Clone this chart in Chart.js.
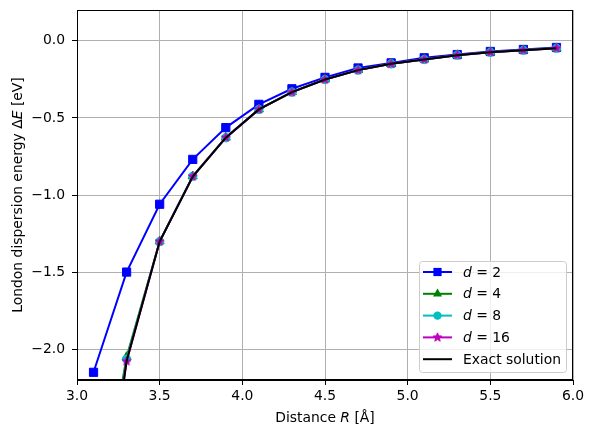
<!DOCTYPE html>
<html>
<head>
<meta charset="utf-8">
<script src="https://cdn.jsdelivr.net/npm/chart.js@4"></script>
<style>
    html, body { margin: 0; padding: 0; background: #fff; }
    canvas { display: block; }
</style>
</head>
<body>
<canvas id="chart" width="593" height="437"></canvas>
<script>
// Distances R in Angstrom
const rValues = [3.1, 3.3, 3.5, 3.7, 3.9, 4.1, 4.3, 4.5, 4.7, 4.9, 5.1, 5.3, 5.5, 5.7, 5.9];

// Dispersion energies in eV
const d2Values = [-2.15, -1.50, -1.06, -0.769, -0.563, -0.412, -0.311, -0.237, -0.176, -0.143, -0.110, -0.089, -0.069, -0.056, -0.043];
const d4Values = [-3.30, -2.05, -1.30, -0.878, -0.627, -0.444, -0.332, -0.250, -0.189, -0.148, -0.120, -0.092, -0.073, -0.060, -0.047];
const d8Values = [-3.50, -2.065, -1.302, -0.879, -0.628, -0.445, -0.333, -0.251, -0.190, -0.149, -0.121, -0.093, -0.074, -0.061, -0.048];
const d16Values = [-3.60, -2.078, -1.302, -0.880, -0.628, -0.445, -0.333, -0.251, -0.190, -0.149, -0.121, -0.093, -0.074, -0.061, -0.048];
const exactValues = [-3.63, -2.076, -1.302, -0.881, -0.628, -0.445, -0.333, -0.251, -0.190, -0.149, -0.121, -0.093, -0.074, -0.061, -0.048];

// Tick labels
const xTicks = [3.0, 3.5, 4.0, 4.5, 5.0, 5.5, 6.0];
const yTicks = [-2.0, -1.5, -1.0, -0.5, 0.0];

const FONT = '"DejaVu Sans", sans-serif';
const FONT_SIZE = 13.9;

const toPoints = (ys) => rValues.map((x, i) => ({ x: x, y: ys[i] }));

// five-pointed star like matplotlib's '*'
function makeStar(color, outer, inner) {
    const size = Math.ceil(outer * 2 + 3);
    const c = document.createElement('canvas');
    c.width = size;
    c.height = size;
    const ctx = c.getContext('2d');
    ctx.translate(size / 2, size / 2);
    ctx.beginPath();
    for (let i = 0; i < 10; i++) {
        const r = i % 2 === 0 ? outer : inner;
        const a = -Math.PI / 2 + i * Math.PI / 5;
        ctx.lineTo(r * Math.cos(a), r * Math.sin(a));
    }
    ctx.closePath();
    ctx.fillStyle = color;
    ctx.fill();
    ctx.strokeStyle = color;
    ctx.lineWidth = 1;
    ctx.stroke();
    return c;
}

const starImg = makeStar('#bf00bf', 4.6, 2.0);

const series = [
    { label: ['d', ' = 2'], data: d2Values, color: '#0000ff', marker: 'rect', radius: 5.8, order: 4 },
    { label: ['d', ' = 4'], data: d4Values, color: '#008000', marker: 'triangle', radius: 5.2, order: 3 },
    { label: ['d', ' = 8'], data: d8Values, color: '#00bfbf', marker: 'circle', radius: 4.2, order: 2 },
    { label: ['d', ' = 16'], data: d16Values, color: '#bf00bf', marker: starImg, radius: 4.6, order: 1 },
    { label: [null, 'Exact solution'], data: exactValues, color: '#000000', marker: false, radius: 0, order: 0 },
];

// text with italic parts
function drawRich(ctx, parts, x, y, align) {
    const fonts = parts.map((p) => (p.italic ? 'italic ' : '') + FONT_SIZE + 'px ' + FONT);
    let total = 0;
    const widths = parts.map((p, i) => {
        ctx.font = fonts[i];
        const w = ctx.measureText(p.text).width;
        total += w;
        return w;
    });
    let cx = align === 'center' ? x - total / 2 : x;
    ctx.textAlign = 'left';
    ctx.textBaseline = 'middle';
    ctx.fillStyle = '#000';
    parts.forEach((p, i) => {
        ctx.font = fonts[i];
        ctx.fillText(p.text, cx, y);
        cx += widths[i];
    });
}

function drawMarker(ctx, s, x, y) {
    ctx.save();
    ctx.fillStyle = s.color;
    if (s.marker === 'rect') {
        const h = s.radius * Math.SQRT1_2;
        ctx.fillRect(x - h, y - h, 2 * h, 2 * h);
    } else if (s.marker === 'triangle') {
        ctx.beginPath();
        for (let i = 0; i < 3; i++) {
            const a = -Math.PI / 2 + i * 2 * Math.PI / 3;
            ctx.lineTo(x + s.radius * Math.cos(a), y + s.radius * Math.sin(a));
        }
        ctx.closePath();
        ctx.fill();
    } else if (s.marker === 'circle') {
        ctx.beginPath();
        ctx.arc(x, y, s.radius, 0, Math.PI * 2);
        ctx.fill();
    } else if (s.marker) {
        ctx.drawImage(s.marker, x - s.marker.width / 2, y - s.marker.height / 2);
    }
    ctx.restore();
}

const decorPlugin = {
    id: 'decor',
    afterDraw(chart) {
        const ctx = chart.ctx;
        const area = chart.chartArea;
        ctx.save();

        // frame
        ctx.strokeStyle = '#000';
        ctx.lineWidth = 1;
        ctx.strokeRect(Math.round(area.left) + 0.5, Math.round(area.top) + 0.5,
            Math.round(area.right - area.left) - 1, Math.round(area.bottom - area.top) - 1);

        // axis titles
        drawRich(ctx, [{ text: 'Distance ' }, { text: 'R', italic: true }, { text: ' [Å]' }],
            (area.left + area.right) / 2, 418, 'center');
        ctx.save();
        ctx.translate(18, (area.top + area.bottom) / 2);
        ctx.rotate(-Math.PI / 2);
        drawRich(ctx, [{ text: 'London dispersion energy Δ' }, { text: 'E', italic: true }, { text: ' [eV]' }],
            0, 0, 'center');
        ctx.restore();

        // legend
        const lx = 419, ly = 261, lw = 147, lh = 111;
        ctx.beginPath();
        ctx.roundRect(lx + 0.5, ly + 0.5, lw, lh, 3);
        ctx.fillStyle = 'rgba(255,255,255,0.8)';
        ctx.fill();
        ctx.strokeStyle = '#cccccc';
        ctx.stroke();
        series.forEach((s, i) => {
            const y = 272 + i * 21.8;
            ctx.beginPath();
            ctx.moveTo(423, y);
            ctx.lineTo(452, y);
            ctx.strokeStyle = s.color;
            ctx.lineWidth = 2;
            ctx.stroke();
            if (s.marker) drawMarker(ctx, s, 437.5, y);
            const parts = [];
            if (s.label[0]) parts.push({ text: s.label[0], italic: true });
            parts.push({ text: s.label[1] });
            drawRich(ctx, parts, 463, y + 1, 'left');
        });
        ctx.restore();
    },
};

const minus = (v) => v.toFixed(1).replace('-', '\u2212');

new Chart(document.getElementById('chart'), {
    type: 'line',
    data: {
        datasets: series.map((s) => ({
            label: s.label.join(''),
            data: toPoints(s.data),
            borderColor: s.color,
            backgroundColor: s.color,
            borderWidth: 2,
            pointStyle: s.marker,
            pointRadius: s.radius,
            pointBorderWidth: 1,
            pointHoverRadius: s.radius,
            tension: 0,
            fill: false,
            order: s.order,
            clip: 0,
        })),
    },
    options: {
        responsive: false,
        animation: false,
        devicePixelRatio: 1,
        layout: { padding: { left: 0, right: 20, top: 10, bottom: 0 } },
        plugins: {
            legend: { display: false },
            tooltip: { enabled: false },
        },
        scales: {
            x: {
                type: 'linear',
                min: 3.0,
                max: 6.0,
                afterFit: (scale) => {
                    scale.height = 57;
                    scale.paddingLeft = 0;
                    scale.paddingRight = 0;
                },
                afterBuildTicks: (scale) => { scale.ticks = xTicks.map((v) => ({ value: v })); },
                grid: { color: '#b0b0b0', lineWidth: 1, tickColor: '#000', tickLength: 5 },
                border: { color: '#000', width: 1 },
                ticks: {
                    color: '#000',
                    padding: 3,
                    maxRotation: 0,
                    font: { family: FONT, size: FONT_SIZE },
                    callback: (v) => minus(v),
                },
            },
            y: {
                type: 'linear',
                min: -2.2,
                max: 0.2,
                afterFit: (scale) => {
                    scale.width = 77;
                    scale.paddingTop = 0;
                    scale.paddingBottom = 0;
                },
                afterBuildTicks: (scale) => { scale.ticks = yTicks.map((v) => ({ value: v })); },
                grid: { color: '#b0b0b0', lineWidth: 1, tickColor: '#000', tickLength: 5 },
                border: { color: '#000', width: 1 },
                ticks: {
                    color: '#000',
                    padding: 7,
                    font: { family: FONT, size: FONT_SIZE },
                    callback: (v) => minus(v),
                },
            },
        },
    },
    plugins: [decorPlugin],
});
</script>
</body>
</html>
